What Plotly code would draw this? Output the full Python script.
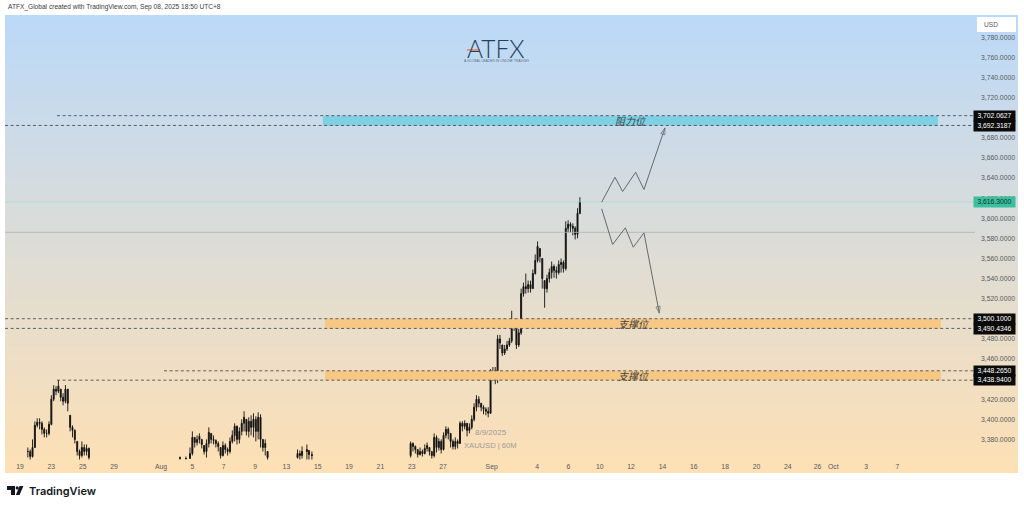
import numpy as np
import plotly.graph_objects as go

W, H = 1024, 507
L, R, T, B = 5, 1018, 15, 473

# x unit: trading days since the first tick of the chart
tick_days = [0, 2, 4, 6, 9, 11, 13, 15, 17, 19, 21, 23, 25, 27, 30.1, 33, 35, 37, 39, 41, 43, 45, 47, 49, 50.9, 51.9, 54, 56]
tick_text = ["19", "23", "25", "29", "Aug", "5", "7", "9", "13", "15", "19", "21", "23", "27", "Sep", "4", "6",
             "10", "12", "14", "16", "18", "20", "24", "26", "Oct", "3", "7"]
price_ticks = [3380, 3400, 3420, 3460, 3480, 3520, 3540, 3560, 3580, 3600, 3620, 3640, 3660, 3680, 3720, 3740, 3760, 3780]
x_range = [-0.957, 63.69]
y_range = [3346.6, 3802.2]

bar_step = 0.15

a_start = 0.5
a_close = [3368,3363,3372,3394,3397,3396,3390,3386,3386,3395,3420,3430,3428,3433,3422,3418,3430,3416,3392,3389,3380,3368,3364,3372,3368,3371,3362]
a_high = [3372,3370,3380,3398,3401,3401,3398,3392,3390,3398,3424,3434,3433,3439,3430,3426,3434,3430,3404,3394,3390,3378,3370,3378,3375,3375,3372]
a_low = [3362,3360,3362,3372,3392,3390,3385,3382,3382,3384,3394,3418,3424,3426,3418,3414,3416,3408,3388,3382,3376,3364,3360,3362,3364,3364,3360]

b_start = 10.85
b_close = [3366,3382,3377,3380,3383,3375,3368,3376,3387,3380,3379,3376,3373,3364,3374,3370,3368,3378,3384,3393,3380,3388,3396,3402,3388,3398,3392,3400,3388,3402,3380,3372,3376,3362]
b_high = [3372,3388,3382,3384,3386,3380,3374,3380,3392,3386,3384,3380,3378,3372,3378,3376,3372,3382,3389,3396,3394,3392,3400,3408,3400,3402,3404,3406,3403,3407,3405,3380,3380,3368]
b_low = [3361,3364,3372,3374,3376,3371,3365,3362,3372,3376,3375,3372,3368,3361,3363,3366,3364,3366,3376,3378,3375,3376,3384,3388,3384,3382,3384,3382,3378,3380,3372,3368,3364,3360]

c_start = 24.93
c_close = [3376,3373,3370,3365,3368,3366,3371,3374,3368,3364,3382,3372,3378,3370,3384,3390,3386,3378,3373,3378,3376,3396,3393,3396,3389,3392,3400,3412,3420,3416,3412,3410,3408,3406,3445,3448,3442,3480,3476,3466,3470,3474,3478,3498,3494,3474,3486,3525,3532,3530,3534,3530,3545,3558,3572,3562,3540,3530,3540,3546,3552,3548,3546,3554,3556,3550,3590,3594,3592,3590,3584,3605,3616.3]
c_high = [3378,3377,3374,3370,3372,3370,3375,3377,3372,3368,3386,3384,3381,3380,3387,3393,3392,3386,3380,3382,3380,3398,3398,3399,3396,3396,3404,3416,3424,3423,3416,3414,3412,3412,3450,3452,3452,3484,3484,3474,3474,3478,3481,3508,3500,3492,3490,3530,3536,3545,3538,3538,3549,3564,3577,3570,3560,3538,3544,3550,3557,3554,3552,3558,3560,3558,3597,3598,3596,3595,3592,3610,3621]
c_low = [3362,3368,3366,3362,3364,3363,3365,3368,3364,3361,3362,3367,3369,3366,3369,3381,3380,3372,3370,3370,3371,3376,3388,3390,3383,3386,3390,3398,3408,3412,3408,3405,3404,3402,3406,3438,3435,3436,3470,3463,3464,3468,3472,3476,3488,3470,3472,3484,3522,3525,3526,3526,3530,3544,3556,3556,3530,3511,3526,3536,3540,3541,3540,3544,3546,3546,3548,3586,3586,3583,3579,3580,3604]

stray_days = [10.21, 10.59, 17.71, 17.86, 18.0, 18.31, 18.44, 18.63]
stray_close = [3361, 3361, 3366, 3364, 3368, 3370, 3365, 3364]
stray_high = [3363, 3363, 3370, 3369, 3373, 3375, 3369, 3368]
stray_low = [3360, 3360, 3361, 3360, 3361, 3360, 3360, 3360]

level_values = [3702.0627, 3692.3187, 3500.1000, 3490.4346, 3448.2650, 3438.9400]
level_starts = [2.36, -0.957, -0.957, -0.957, 9.19, 2.36]
level_end = 60.95
last_price = 3616.30
prev_close = 3586.0

zones = [(3692.3187, 3702.0627, 19.33, 58.58, "#7fd0e3", "阻力位", 630),
         (3490.4346, 3500.1000, 19.46, 58.77, "#f6c884", "支撑位", 633),
         (3438.9400, 3448.2650, 19.46, 58.77, "#f6c884", "支撑位", 633)]

up_days = [37.12, 37.97, 38.46, 39.29, 39.82, 41.16]
up_prices = [3616, 3640.8, 3626.6, 3645.8, 3628.6, 3689.9]
down_days = [37.12, 37.82, 38.63, 39.14, 39.82, 40.80]
down_prices = [3609.4, 3573.9, 3590.5, 3571.2, 3585.5, 3505.6]

FONT = "Liberation Sans"
def xp(px): return (px - L) / (R - L)
def yp(py): return (B - py) / (B - T)

fig = go.Figure()

# vertical background gradient
fig.add_trace(go.Heatmap(x=[x_range[0], x_range[1]], y=[y_range[0], y_range[1]], z=[[0, 0], [1, 1]],
                         zsmooth="best", showscale=False, hoverinfo="skip",
                         colorscale=[[0, "#fee0b4"], [1, "#bbd9f9"]], zmin=0, zmax=1))

for lo, hi, x0, x1, col, _, _ in zones:
    fig.add_trace(go.Scatter(x=[x0, x1, x1, x0, x0], y=[lo, lo, hi, hi, lo], mode="lines", fill="toself",
                             fillcolor=col, line=dict(width=0), hoverinfo="skip", showlegend=False))

for v, s in zip(level_values, level_starts):
    fig.add_trace(go.Scatter(x=[s, level_end], y=[v, v], mode="lines", hoverinfo="skip", showlegend=False,
                             line=dict(color="#3a3f48", width=0.8, dash="3px,2.6px")))

fig.add_trace(go.Scatter(x=[x_range[0], level_end], y=[last_price, last_price], mode="lines", showlegend=False,
                         hoverinfo="skip", line=dict(color="#a9d8d0", width=0.8)))
fig.add_trace(go.Scatter(x=[x_range[0], level_end], y=[prev_close, prev_close], mode="lines", showlegend=False,
                         hoverinfo="skip", line=dict(color="#aeb0b2", width=0.8)))

days, closes, highs, lows = [], [], [], []
for st, c, h, l in [(a_start, a_close, a_high, a_low), (b_start, b_close, b_high, b_low), (c_start, c_close, c_high, c_low)]:
    days += list(st + bar_step * np.arange(len(c)))
    closes += c; highs += h; lows += l
days += stray_days; closes += stray_close; highs += stray_high; lows += stray_low
order = np.argsort(days)
days = np.array(days)[order]; closes = np.array(closes)[order]; highs = np.array(highs)[order]; lows = np.array(lows)[order]
opens = np.concatenate([[closes[0]], closes[:-1]])
# open of a gap-following bar sits inside that bar's range
opens = np.clip(opens, lows, highs)

fig.add_trace(go.Candlestick(x=days, open=opens, high=highs, low=lows, close=closes, whiskerwidth=0, showlegend=False,
                             increasing=dict(line=dict(color="#111111", width=0.9), fillcolor="#111111"),
                             decreasing=dict(line=dict(color="#111111", width=0.9), fillcolor="#111111")))

for dx, py in [(up_days, up_prices), (down_days, down_prices)]:
    fig.add_trace(go.Scatter(x=dx, y=py, mode="lines+markers", showlegend=False, hoverinfo="skip",
                             line=dict(color="#666a6e", width=1),
                             marker=dict(symbol="arrow-open", angleref="previous",
                                         size=[0, 0, 0, 0, 0, 7], color="#666a6e",
                                         line=dict(color="#666a6e", width=1))))

fig.update_layout(
    width=W, height=H, autosize=False,
    margin=dict(l=L, r=W - R, t=T, b=H - B),
    paper_bgcolor="white", plot_bgcolor="white",
    showlegend=False, dragmode=False,
    font=dict(family=FONT, color="#555a60", size=7),
    xaxis=dict(range=x_range, tickmode="array", tickvals=tick_days, ticktext=tick_text, ticks="",
               ticklabelposition="inside", showgrid=False, zeroline=False, showline=False, tickangle=0,
               tickfont=dict(size=6.8, color="#555a60", family=FONT), rangeslider=dict(visible=False), fixedrange=True),
    yaxis=dict(range=y_range, side="right", tickmode="array", tickvals=price_ticks,
               ticktext=[f"{v:,.4f}" for v in price_ticks], ticks="", ticklabelposition="inside",
               showgrid=False, zeroline=False, showline=False,
               tickfont=dict(size=6.8, color="#555a60", family=FONT), fixedrange=True),
)

ann = []
def text(px, py, s, size, color="#333", anchor="center", family=FONT, **kw):
    ann.append(dict(xref="paper", yref="paper", x=xp(px), y=yp(py), text=s, showarrow=False, xanchor=anchor,
                    yanchor="middle", font=dict(size=size, color=color, family=family, **kw)))

text(6, 7.5, "ATFX_Global created with TradingView.com, Sep 08, 2025 18:50 UTC+8", 6.6, "#3a3a3a", "left")
text(982, 24.5, "USD", 6.6, "#555a60", "left")
text(490.5, 432, "8/9/2025", 8, "#9b9b98")
text(490.5, 445, "XAUUSD | 60M", 7.6, "#9b9b98")
text(496, 48, "ATFX", 24.5, "#24405f", family="Lato", weight=300)
text(496, 60.5, "A GLOBAL LEADER IN ONLINE TRADING", 3.4, "#5a6f86")
text(27, 490.5, "TradingView", 11, "#131722", "left", family="Inter", weight=600)

for lo, hi, x0, x1, col, lab, lx in zones:
    py = 36.7 + (3780 - (lo + hi) / 2) * 1.0058
    text(lx, py + 0.5, f"<i>{lab}</i>", 10, "#3a4148", family="Noto Sans CJK SC")

def box(value, bg, fg="white"):
    py = 37.4 + (3780 - value) * 1.0058
    ann.append(dict(xref="paper", yref="paper", x=xp(1016), y=yp(py), text=f"{value:,.4f}", showarrow=False,
                    xanchor="right", yanchor="middle", bgcolor=bg, width=41, height=9.6, borderpad=0,
                    align="center", font=dict(size=6.8, color=fg, family=FONT)))
for v in level_values:
    box(v, "#0b0b0b")
box(last_price, "#3bbf9f", "#10332a")
fig.update_layout(annotations=ann)

def path(points):
    return "M " + " L ".join(f"{xp(a):.5f},{yp(b):.5f}" for a, b in points) + " Z"

shapes = [
    dict(type="rect", xref="paper", yref="paper", x0=xp(977), x1=xp(1016), y0=yp(32), y1=yp(17),
         fillcolor="white", line=dict(width=0)),
    dict(type="line", xref="paper", yref="paper", x0=xp(467), x1=xp(480), y0=yp(50), y1=yp(50),
         line=dict(color="#e8663a", width=1.2)),
    dict(type="path", xref="paper", yref="paper", path=path([(7, 486), (15, 486), (15, 495), (11, 495), (11, 490), (7, 490)]),
         fillcolor="#131722", line=dict(width=0)),
    dict(type="circle", xref="paper", yref="paper", x0=xp(15.6), x1=xp(18.8), y0=yp(489.6), y1=yp(486.3),
         fillcolor="#131722", line=dict(width=0)),
    dict(type="path", xref="paper", yref="paper", path=path([(19.6, 486), (23.4, 486), (19.6, 495), (15.8, 495)]),
         fillcolor="#131722", line=dict(width=0)),
]
fig.update_layout(shapes=shapes)

fig.write_html("out.html", config=dict(displayModeBar=False),
               post_script="document.body.style.margin='0';document.documentElement.style.overflow='hidden';")
